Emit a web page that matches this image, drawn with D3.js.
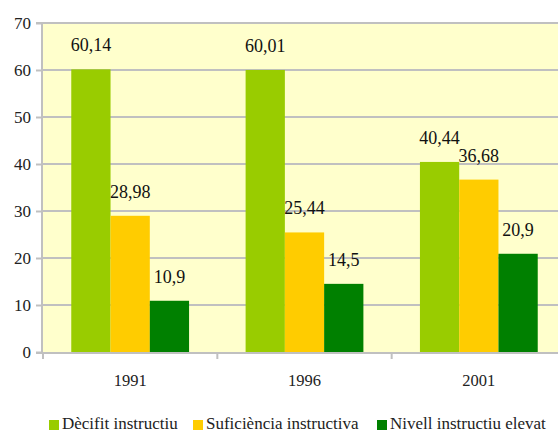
<!DOCTYPE html>
<html><head><meta charset="utf-8">
<script src="https://cdn.jsdelivr.net/npm/d3@7"></script>
<style>body{margin:0;background:#fff;overflow:hidden}svg{display:block}</style>
</head><body><svg id="c" width="558" height="433"></svg>
<script>
const categories = ["1991", "1996", "2001"];
const seriesNames = ["Dècifit instructiu", "Suficiència instructiva", "Nivell instructiu elevat"];
const deficit = [60.14, 60.01, 40.44];
const suficiencia = [28.98, 25.44, 36.68];
const elevat = [10.9, 14.5, 20.9];
const yTicks = [0, 10, 20, 30, 40, 50, 60, 70];
const colors = ["#99CC00", "#FFCC00", "#008000"];

const series = [deficit, suficiencia, elevat];
const FONT = '"Liberation Serif"';
const svg = d3.select("#c");
const m = {left: 43, top: 23, right: 566, bottom: 352};

const x = d3.scaleBand().domain(categories).range([m.left, m.right]).paddingInner(0).paddingOuter(0);
const y = d3.scaleLinear().domain([0, 70]).range([m.bottom, m.top]);
const xs = d3.scaleBand().domain(d3.range(series.length)).range([0, x.bandwidth()]).paddingOuter(0.72).paddingInner(0);

svg.append("rect").attr("x", m.left).attr("y", m.top).attr("width", m.right - m.left).attr("height", m.bottom - m.top).attr("fill", "#FFFFCC");

svg.append("g").selectAll("line").data(yTicks.filter(d => d > 0)).join("line")
  .attr("x1", m.left).attr("x2", m.right).attr("y1", d => y(d)).attr("y2", d => y(d))
  .attr("stroke", "#C0C0C0").attr("stroke-width", 2);

const data = [];
categories.forEach((c, i) => series.forEach((s, j) => data.push({c, j, v: s[i]})));
svg.append("g").selectAll("rect").data(data).join("rect")
  .attr("x", d => x(d.c) + xs(d.j)).attr("width", xs.bandwidth())
  .attr("y", d => y(d.v)).attr("height", d => y(0) - y(d.v))
  .attr("fill", d => colors[d.j]);

const yAxis = d3.axisLeft(y).tickValues(yTicks).tickSize(6).tickPadding(5).tickFormat(d3.format("d"));
const gy = svg.append("g").attr("transform", `translate(${m.left - 1},0)`).call(yAxis);
gy.select(".domain").attr("stroke", "#C0C0C0").attr("stroke-width", 2).attr("d", `M-6,${m.top}H0V${m.bottom + 1}`);
gy.selectAll(".tick line").attr("stroke", "#C0C0C0").attr("stroke-width", 2);
gy.selectAll("text").style("font-family", FONT).style("font-size", "17px").attr("fill", "#222").attr("dy", "0.35em");

const xAxis = d3.axisBottom(x).tickSize(0).tickPadding(22);
const gx = svg.append("g").attr("transform", `translate(0,${m.bottom})`).call(xAxis);
gx.select(".domain").attr("stroke", "#C0C0C0").attr("stroke-width", 2).attr("d", `M${m.left - 7},1H${m.right}`);
gx.selectAll("text").style("font-family", FONT).style("font-size", "16.5px").attr("fill", "#222");
gx.append("g").selectAll("line").data(categories.map(c => x(c)).concat([m.right])).join("line")
  .attr("x1", d => d).attr("x2", d => d).attr("y1", 0).attr("y2", 7)
  .attr("stroke", "#C0C0C0").attr("stroke-width", 2);

svg.append("g").selectAll("text").data(data).join("text")
  .attr("x", d => x(d.c) + xs(d.j) + xs.bandwidth() / 2)
  .attr("y", d => y(d.v) - 18)
  .attr("text-anchor", "middle").style("font-family", FONT).style("font-size", "18px").attr("fill", "#111")
  .text(d => d3.format(".2~f")(d.v).replace(".", ","));

const legendX = [49, 193, 377];
const lg = svg.append("g").attr("transform", "translate(0,429)");
seriesNames.forEach((n, i) => {
  lg.append("rect").attr("x", legendX[i]).attr("y", -9).attr("width", 10).attr("height", 10).attr("fill", colors[i]);
  lg.append("text").attr("x", legendX[i] + 13).attr("y", 0).style("font-family", FONT).style("font-size", "17px").attr("fill", "#222").text(n);
});
</script></body></html>
